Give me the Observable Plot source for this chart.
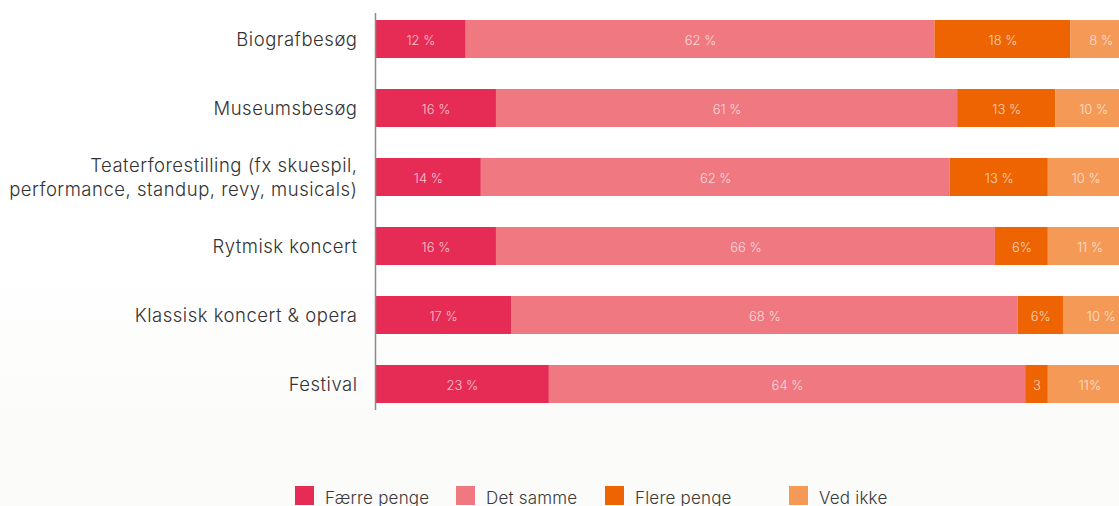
<!DOCTYPE html>
<html>
<head>
<meta charset="utf-8">
<script src="https://cdn.jsdelivr.net/npm/d3@7"></script>
<script src="https://cdn.jsdelivr.net/npm/@observablehq/plot@0.6"></script>
<style>
  html, body { margin: 0; padding: 0; overflow: hidden; }
  body { width: 1119px; height: 506px; background: linear-gradient(#ffffff 0px, #ffffff 260px, #fbfbfa 420px, #fbfbfa 506px); font-family: "Inter", "Open Sans", sans-serif; }
  #chart svg { display: block; background: transparent; }
  #chart g[aria-label="y-axis tick label"] text { letter-spacing: 0.5px; }
  .legend { position: relative; height: 86px; }
  .item { position: absolute; top: 66px; display: flex; align-items: flex-start; font-size: 17px; color: #3a3a3a; font-weight: 300; }
  .item span { position: relative; top: 2px; letter-spacing: 0.2px; }
  .sw { width: 19px; height: 19px; margin-right: 11px; }
</style>
</head>
<body>
<div id="chart"></div>
<div class="legend" id="legend"></div>
<script>
const categories = [
  "Biografbesøg",
  "Museumsbesøg",
  "Teaterforestilling (fx skuespil,\nperformance, standup, revy, musicals)",
  "Rytmisk koncert",
  "Klassisk koncert & opera",
  "Festival"
];
const series = ["Færre penge", "Det samme", "Flere penge", "Ved ikke"];
const colors = ["#e62c55", "#f07881", "#ee6402", "#f59a56"];

const faerrePenge = [12, 16, 14, 16, 18, 23];
const detSamme    = [62, 61, 62, 66, 67, 63];
const flerePenge  = [18, 13, 13, 7, 6, 3];
const vedIkke     = [8, 10, 10, 11, 10, 11];

const faerreLabels = ["12 %", "16 %", "14 %", "16 %", "17 %", "23 %"];
const sammeLabels  = ["62 %", "61 %", "62 %", "66 %", "68 %", "64 %"];
const flereLabels  = ["18 %", "13 %", "13 %", "6%", "6%", "3"];
const vedIkkeLabels = ["8 %", "10 %", "10 %", "11 %", "10 %", "11%"];

const seriesValues = [faerrePenge, detSamme, flerePenge, vedIkke];
const seriesLabels = [faerreLabels, sammeLabels, flereLabels, vedIkkeLabels];

const rows = [];
categories.forEach((cat, i) => {
  series.forEach((s, j) => {
    rows.push({cat, series: s, value: seriesValues[j][i], label: seriesLabels[j][i]});
  });
});

const font = "Inter, 'Open Sans', sans-serif";

const chart = Plot.plot({
  width: 1119,
  height: 420,
  marginLeft: 375,
  marginRight: -12,
  marginTop: 13,
  marginBottom: 10,
  style: {fontFamily: font, background: "transparent", overflow: "hidden"},
  x: {domain: [0, 100], axis: null},
  y: {domain: categories, paddingInner: 0.45, paddingOuter: 0.086, axis: null},
  color: {domain: series, range: colors},
  marks: [
    Plot.barX(rows, Plot.stackX({x: "value", y: "cat", fill: "series"})),
    Plot.text(rows, Plot.stackX({x: "value", y: "cat", z: "series", text: "label",
      fill: "white", fillOpacity: 0.72, fontSize: 13, fontWeight: 300, dy: 1})),
    Plot.ruleX([0], {stroke: "#8a8a8a", strokeWidth: 1.5}),
    Plot.axisY({tickSize: 0, tickPadding: 18, fontSize: 18.5, fontWeight: 300, fill: "#333",
      lineHeight: 1.27, dy: -1, label: null})
  ]
});
document.getElementById("chart").appendChild(chart);

const legendLefts = [295, 456, 605, 789];
const legend = document.getElementById("legend");
series.forEach((s, j) => {
  const item = document.createElement("div");
  item.className = "item";
  item.style.left = legendLefts[j] + "px";
  const sw = document.createElement("div");
  sw.className = "sw";
  sw.style.background = colors[j];
  const t = document.createElement("span");
  t.textContent = s;
  item.appendChild(sw);
  item.appendChild(t);
  legend.appendChild(item);
});
</script>
</body>
</html>
